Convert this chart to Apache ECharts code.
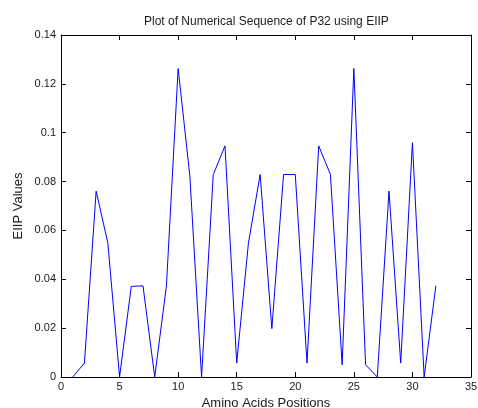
<!DOCTYPE html>
<html>
<head>
<meta charset="utf-8">
<script src="https://cdn.jsdelivr.net/npm/echarts@6/dist/echarts.min.js"></script>
<style>
html,body{margin:0;padding:0;background:#fff;}
#chart{width:478px;height:408px;}
</style>
</head>
<body>
<div id="chart"></div>
<script>
var titleText = "Plot of Numerical Sequence of P32 using EIIP";
var xName = "Amino Acids Positions";
var yName = "EIIP Values";
var positions = [1,2,3,4,5,6,7,8,9,10,11,12,13,14,15,16,17,18,19,20,21,22,23,24,25,26,27,28,29,30,31,32];
var eiipValues = [0,0.0057,0.0761,0.0548,0,0.0371,0.0373,0,0.0373,0.1263,0.0823,0,0.0829,0.0946,0.0057,0.0548,0.0829,0.0198,0.0829,0.0829,0.0057,0.0946,0.0829,0.005,0.1263,0.005,0,0.0761,0.0057,0.0959,0,0.0373];
var xMin = 0, xMax = 35, xStep = 5;
var yMin = 0, yMax = 0.14, yStep = 0.02;

var pts = positions.map(function(p, i){ return [p, eiipValues[i]]; });
var font = "'Liberation Sans', Arial, sans-serif";
var txt = '#1a1a1a';
var lineStyle = {color:'#000', width:1};

var chart = echarts.init(document.getElementById('chart'));
chart.setOption({
  animation:false,
  backgroundColor:'#fff',
  title:{text:titleText, left:139, top:11,
    textStyle:{fontFamily:font, fontSize:12, fontWeight:'normal', color:txt}},
  grid:{left:61, right:7, top:35, bottom:31, containLabel:false, outerBoundsMode:'none'},
  xAxis:[
    {type:'value', position:'bottom', min:xMin, max:xMax, interval:xStep,
     name:xName, nameLocation:'middle', nameGap:20, nameMoveOverlap:false,
     nameTextStyle:{fontFamily:font, fontSize:13, color:txt},
     axisLine:{show:true, onZero:false, lineStyle:lineStyle},
     axisTick:{show:true, inside:true, length:5, lineStyle:lineStyle},
     axisLabel:{fontFamily:font, fontSize:11, color:txt, margin:4},
     splitLine:{show:false}},
    {type:'value', position:'top', min:xMin, max:xMax, interval:xStep,
     axisLine:{show:true, onZero:false, lineStyle:lineStyle},
     axisTick:{show:true, inside:true, length:5, lineStyle:lineStyle},
     axisLabel:{show:false}, splitLine:{show:false}}
  ],
  yAxis:[
    {type:'value', position:'left', min:yMin, max:yMax, interval:yStep,
     name:yName, nameLocation:'middle', nameGap:36, nameMoveOverlap:false,
     nameTextStyle:{fontFamily:font, fontSize:13, color:txt},
     axisLine:{show:true, onZero:false, lineStyle:lineStyle},
     axisTick:{show:true, inside:true, length:5, lineStyle:lineStyle},
     axisLabel:{fontFamily:font, fontSize:11, color:txt, margin:5},
     splitLine:{show:false}},
    {type:'value', position:'right', min:yMin, max:yMax, interval:yStep,
     axisLine:{show:true, onZero:false, lineStyle:lineStyle},
     axisTick:{show:true, inside:true, length:5, lineStyle:lineStyle},
     axisLabel:{show:false}, splitLine:{show:false}}
  ],
  series:[{type:'line', xAxisIndex:0, yAxisIndex:0, data:pts, showSymbol:false,
    symbol:'none', lineStyle:{color:'#0000ff', width:1}, itemStyle:{color:'#0000ff'}}]
});
</script>
</body>
</html>
